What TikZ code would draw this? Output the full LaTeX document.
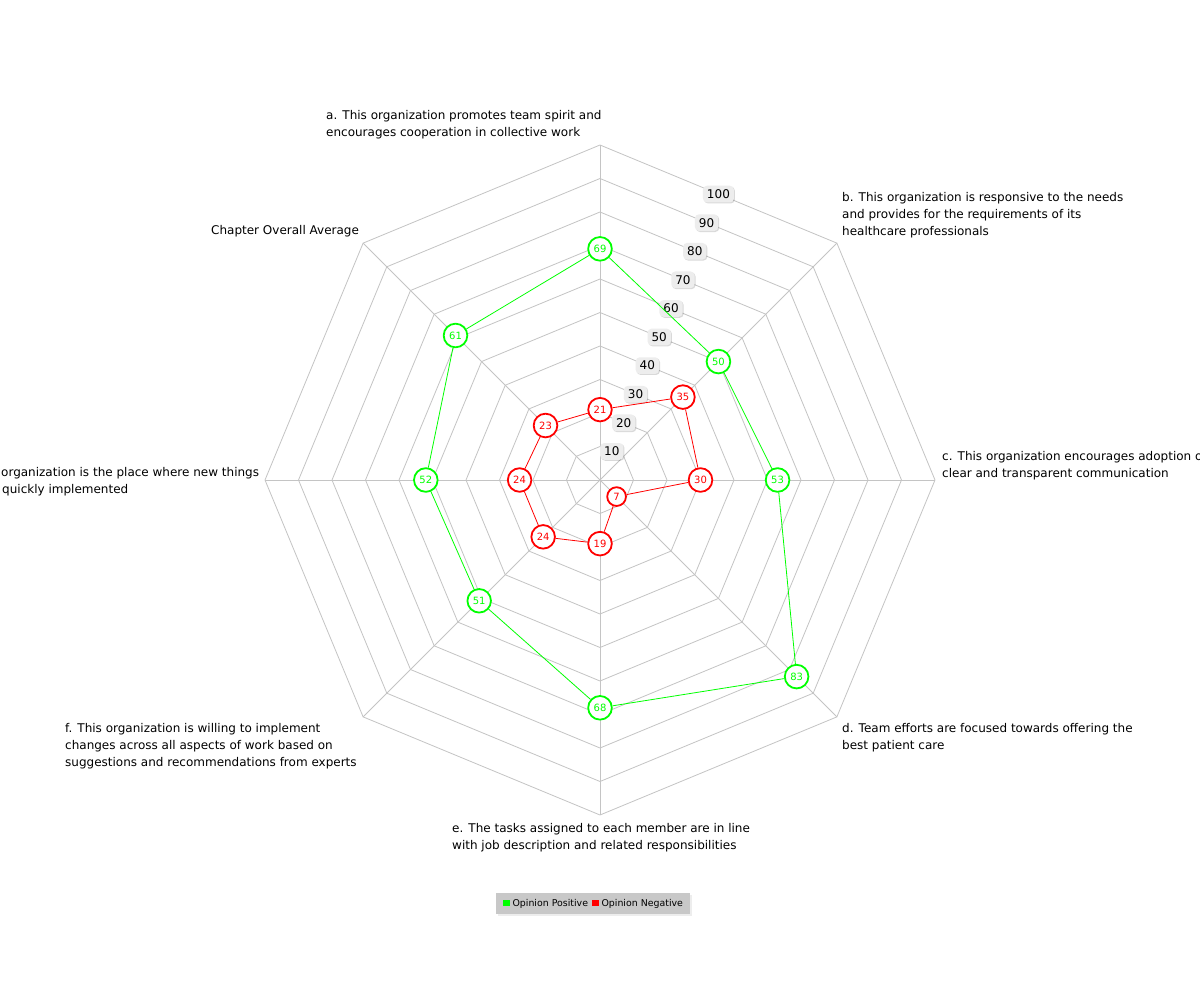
\documentclass[tikz,border=0pt]{standalone}
\usepackage{fontspec}
\setmainfont{DejaVu Sans}
\usetikzlibrary{shadows}
\definecolor{gridc}{HTML}{C4C4C4}
\definecolor{pos}{HTML}{00FF00}
\definecolor{neg}{HTML}{FF0000}
\definecolor{tickfill}{HTML}{EDEDED}
\definecolor{legfill}{HTML}{C8C8C8}
\begin{document}
\begin{tikzpicture}[x=1pt,y=-1pt,
  gridline/.style={draw=gridc,line width=0.8pt},
  dot/.style={circle,fill=white,line width=1.8pt,inner sep=3.2pt,font=\fontsize{10}{10}\selectfont},
  posdot/.style={dot,draw=pos,text=pos},
  negdot/.style={dot,draw=neg,text=neg},
  posline/.style={draw=pos,line width=0.8pt},
  negline/.style={draw=neg,line width=0.8pt},
  ticklabel/.style={fill=tickfill,rounded corners=4pt,inner xsep=4pt,inner ysep=4pt,
    text height=8.7pt,text depth=0pt,font=\fontsize{12}{12}\selectfont,
    drop shadow={shadow xshift=1pt,shadow yshift=-1pt,opacity=0.15,fill=black}},
  axislabel/.style={inner sep=0pt,anchor=base west,align=left,font=\fontsize{12}{17}\selectfont},
  legendbox/.style={fill=legfill,minimum width=194pt,minimum height=21pt,inner sep=0pt,
    font=\fontsize{9.4}{9.4}\selectfont,
    drop shadow={shadow xshift=1.5pt,shadow yshift=-1.5pt,opacity=1,fill=black!7}}
]
\useasboundingbox (0,0) rectangle (1200,1000);
\fill[white] (0,0) rectangle (1200,1000);
\coordinate (O) at (600,480);
\begin{scope}[shift={(600,480)}]
  % rings
  \foreach \k in {1,...,10}{
    \draw[gridline] (0:{\k*33.5}) \foreach \a in {-45,-90,...,-315}{ -- (\a:{\k*33.5})} -- cycle;
  }
  % axis ends
  \coordinate (ax-a) at (-90:335);
  \coordinate (ax-b) at (-45:335);
  \coordinate (ax-c) at (0:335);
  \coordinate (ax-d) at (45:335);
  \coordinate (ax-e) at (90:335);
  \coordinate (ax-f) at (135:335);
  \coordinate (ax-g) at (180:335);
  \coordinate (ax-h) at (225:335);
  \foreach \n in {a,b,c,d,e,f,g,h}{ \draw[gridline] (O) -- (ax-\n); }
  % tick labels
  \foreach \k in {1,...,10}{
    \node[ticklabel] (tick\k) at (-67.5:{\k*33.5*0.92388}) {\the\numexpr\k*10\relax};
  }
  % positive series
  \node[posdot] (pa) at (-90:{69*3.35}) {69};
  \node[posdot] (pb) at (-45:{50*3.35}) {50};
  \node[posdot] (pc) at (0:{53*3.35}) {53};
  \node[posdot] (pd) at (45:{83*3.35}) {83};
  \node[posdot] (pe) at (90:{68*3.35}) {68};
  \node[posdot] (pf) at (135:{51*3.35}) {51};
  \node[posdot] (pg) at (180:{52*3.35}) {52};
  \node[posdot] (ph) at (225:{61*3.35}) {61};
  \draw[posline] (pa) -- (pb) -- (pc) -- (pd) -- (pe) -- (pf) -- (pg) -- (ph) -- (pa);
  % negative series
  \node[negdot] (na) at (-90:{21*3.35}) {21};
  \node[negdot] (nb) at (-45:{35*3.35}) {35};
  \node[negdot] (nc) at (0:{30*3.35}) {30};
  \node[negdot] (nd) at (45:{7*3.35}) {7};
  \node[negdot] (ne) at (90:{19*3.35}) {19};
  \node[negdot] (nf) at (135:{24*3.35}) {24};
  \node[negdot] (ng) at (180:{24*3.35}) {24};
  \node[negdot] (nh) at (225:{23*3.35}) {23};
  \draw[negline] (na) -- (nb) -- (nc) -- (nd) -- (ne) -- (nf) -- (ng) -- (nh) -- (na);
\end{scope}
% axis labels (anchor is the baseline of the last line)
\node[axislabel] (la) at (326,137) {a. This organization promotes team spirit and\\encourages cooperation in collective work};
\node[axislabel] (lb) at (842,236) {b. This organization is responsive to the needs\\and provides for the requirements of its\\healthcare professionals};
\node[axislabel] (lc) at (942,477) {c. This organization encourages adoption of\\clear and transparent communication};
\node[axislabel] (ld) at (842,749) {d. Team efforts are focused towards offering the\\best patient care};
\node[axislabel] (le) at (452,849) {e. The tasks assigned to each member are in line\\with job description and related responsibilities};
\node[axislabel] (lf) at (65,766) {f. This organization is willing to implement\\changes across all aspects of work based on\\suggestions and recommendations from experts};
\node[axislabel] (lg) at (1,493) {organization is the place where new things\\\hspace*{1pt}quickly implemented};
\node[axislabel] (lh) at (211,235) {Chapter Overall Average};
% legend
\node[legendbox] (legend) at (593,903.5) {{\color{pos}\rule{6.5pt}{6.5pt}}\hspace{3pt}Opinion Positive\hspace{4pt}{\color{neg}\rule{6.5pt}{6.5pt}}\hspace{3pt}Opinion Negative};
\end{tikzpicture}
\end{document}
